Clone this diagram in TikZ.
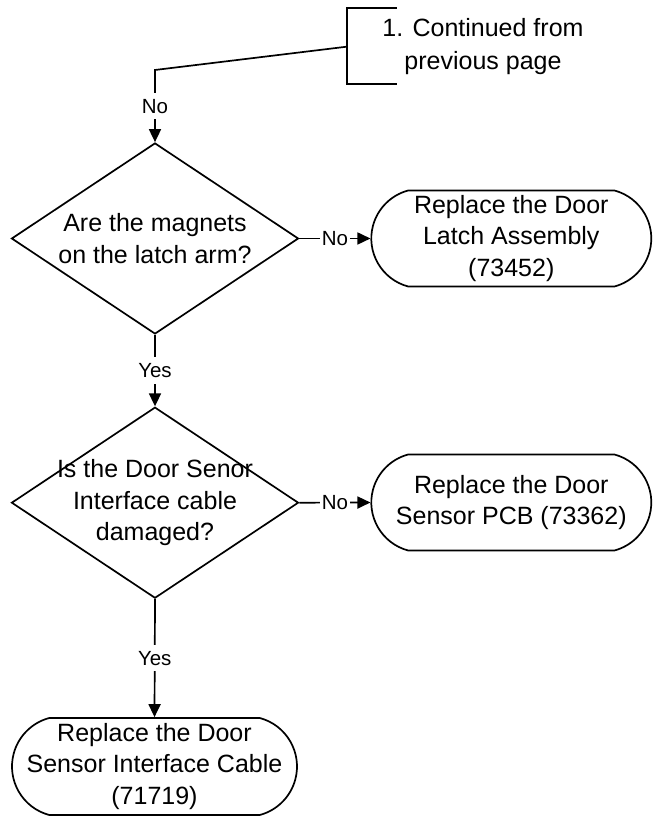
\documentclass[tikz,border=0pt]{standalone}
\usepackage{fontspec}
\setmainfont{Liberation Sans}
\usetikzlibrary{shapes.geometric,shapes.misc,arrows.meta}
\begin{document}
\begin{tikzpicture}[x=1pt,y=1pt,
  line width=1.7pt,
  txt/.style={font=\fontsize{25}{31.7}\selectfont, align=center, inner sep=0pt},
  decision/.style={draw, shape=diamond, minimum width=287pt, minimum height=191pt, inner sep=0pt},
  term/.style={draw, shape=rounded rectangle, rounded rectangle arc length=150, minimum width=280pt, minimum height=96pt, inner sep=0pt},
  lbl/.style={font=\fontsize{20.5}{24}\selectfont, fill=white, inner xsep=2pt, inner ysep=6pt},
  flow/.style={-{Triangle[length=13pt,width=12pt]}}
]
\useasboundingbox (0,0) rectangle (653,816);
% continuation bracket
\coordinate (btr) at (396.7,807.7);
\coordinate (btl) at (346.7,807.7);
\coordinate (bbl) at (346.7,732);
\coordinate (bbr) at (396.7,732);
\coordinate (bm) at (346.7,769.3);
\coordinate (bk) at (155,746);
\draw (btr) -- (btl) -- (bbl) -- (bbr);
\node[txt, font=\fontsize{25}{33}\selectfont] (cont) at (483,769.5) {1. Continued from\\previous page};
% decisions
\node[decision] (d1) at (155,577.5) {};
\node[txt] (d1t) at (d1.center) {Are the magnets\\on the latch arm?};
\node[decision] (d2) at (155,313.3) {};
\node[txt] (d2t) at (d2.center) {Is the Door Senor\\Interface cable\\damaged?};
% terminators
\node[term] (t1) at (511.3,577.5) {};
\node[txt] (t1t) at (t1.center) {Replace the Door\\Latch Assembly\\(73452)};
\node[term] (t2) at (511.3,313.5) {};
\node[txt] (t2t) at (t2.center) {Replace the Door\\Sensor PCB (73362)};
\node[term, minimum width=285pt, minimum height=97pt] (t3) at (154.5,49.5) {};
\node[txt] (t3t) at (t3.center) {Replace the Door\\Sensor Interface Cable\\(71719)};
% connectors
\draw[flow] (bm) -- (bk) -- node[lbl]{No} (d1.north);
\draw[flow] (d1.south) -- node[lbl]{Yes} (d2.north);
\draw[flow] (d1.east) -- node[lbl]{No} (t1.west);
\draw[flow] (d2.east) -- node[lbl]{No} (t2.west);
\draw[flow] (d2.south) -- node[lbl]{Yes} (t3.north);
\end{tikzpicture}
\end{document}
